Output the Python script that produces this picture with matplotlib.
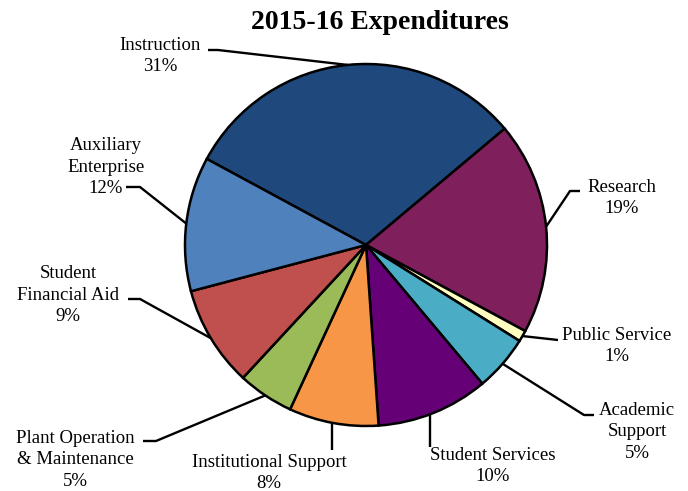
import matplotlib
matplotlib.use("Agg")
import matplotlib.pyplot as plt
import numpy as np

plt.rcParams['font.family'] = ['Liberation Serif', 'DejaVu Serif']

categories = ["Instruction", "Research", "Public Service", "Academic\nSupport",
              "Student Services", "Institutional Support",
              "Plant Operation\n& Maintenance", "Student\nFinancial Aid",
              "Auxiliary\nEnterprise"]
values = [31, 19, 1, 5, 10, 8, 5, 9, 12]
colors = ["#1F497D", "#7F1F5C", "#FFFFC0", "#4BACC6", "#660077",
          "#F79646", "#9BBB59", "#C0504D", "#4F81BD"]

W, H = 688, 491
fig = plt.figure(figsize=(W / 100, H / 100), dpi=100)
ax = fig.add_axes([0, 0, 1, 1])

cx, cy, r = 366, H - 245, 181
wedges, _ = ax.pie(values, colors=colors, startangle=151.6, counterclock=False,
                   center=(cx, cy), radius=r, frame=True,
                   wedgeprops=dict(edgecolor='black', linewidth=1.8))
ax.set_xlim(0, W)
ax.set_ylim(0, H)
ax.set_aspect('equal')
ax.axis('off')

# label layout (pixel coords, y from top): text center, leader path points after anchor
layout = [
    dict(text=(160, 56), path=[(218, 50), (208, 50)]),
    dict(text=(622, 198), path=[(570, 191), (580, 191)]),
    dict(text=(617, 346), path=[(558, 340)]),
    dict(text=(637, 432), path=[(584, 415), (594, 415)]),
    dict(text=(493, 466), path=[(430, 447)]),
    dict(text=(269, 473), path=[(332, 450)]),
    dict(text=(75, 460), path=[(156, 441), (143, 441)]),
    dict(text=(68, 295), path=[(140, 299), (128, 299)]),
    dict(text=(106, 167), path=[(140, 187), (126, 187)]),
]
anchors_override = {4: 430, 5: 332}

for i, (w, lab, v, lo) in enumerate(zip(wedges, categories, values, layout)):
    mid = np.deg2rad((w.theta1 + w.theta2) / 2)
    ax_, ay_ = cx + r * np.cos(mid), cy + r * np.sin(mid)
    if i in anchors_override:
        ax_ = anchors_override[i]
        ay_ = cy - np.sqrt(r**2 - (ax_ - cx)**2)
    xs = [ax_] + [p[0] for p in lo['path']]
    ys = [ay_] + [H - p[1] for p in lo['path']]
    ax.plot(xs, ys, color='black', lw=1.7, solid_capstyle='butt', zorder=3)
    tx, ty = lo['text']
    ax.text(tx, H - ty, f"{lab}\n{v}%", ha='center', va='center',
            fontsize=13.5, linespacing=1.38)

ax.text(380, H - 22, "2015-16 Expenditures", ha='center', va='center',
        fontsize=20, fontweight='bold')

fig.savefig("out.png", dpi=100)
